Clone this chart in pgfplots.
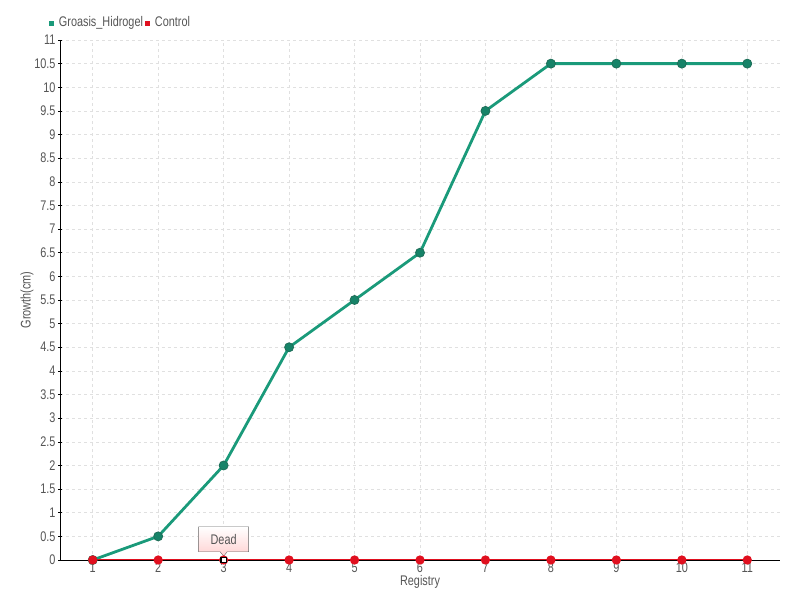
\documentclass[border=0pt]{standalone}
\usepackage{fontspec}
\setmainfont{Liberation Sans}[FakeStretch=0.78]
\usepackage{pgfplots}
\pgfplotsset{compat=1.18}
\usetikzlibrary{shapes.callouts}

\definecolor{hidro}{HTML}{1A9A7A}
\definecolor{hidroDark}{HTML}{1E6E58}
\definecolor{ctrl}{HTML}{E0101F}
\definecolor{txt}{HTML}{555555}

\begin{document}
\begin{tikzpicture}[x=1bp,y=1bp]
\useasboundingbox (0,0) rectangle (800,600);
\begin{axis}[
    at={(60bp,40bp)}, anchor=south west,
    scale only axis, width=720bp, height=520bp,
    xmin=0.5, xmax=11.5, ymin=0, ymax=11,
    xtick={1,...,11}, ytick={0,0.5,...,11},
    axis lines=left, axis line style={-, black, line width=0.8pt},
    tick style={black, line width=0.6pt}, major tick length=4bp,
    grid=major, grid style={dashed, black!12, line width=0.6pt},
    /pgf/number format/assume math mode=true,
    yticklabel style={/pgf/number format/fixed, /pgf/number format/precision=1, xshift=1bp},
    tick label style={font=\fontsize{14}{16}\selectfont, text=txt},
    xticklabel style={yshift=3bp},
    xlabel={Registry}, ylabel={Growth(cm)},
    label style={font=\fontsize{14}{16}\selectfont, text=txt},
    xlabel style={yshift=4bp},
    ylabel style={yshift=-6bp},
    legend columns=2,
    legend style={at={(-0.017,1.052)}, anchor=north west, draw=none, fill=none,
        font=\fontsize{14}{16}\selectfont, text=txt, inner sep=1bp,
        /tikz/every odd column/.append style={column sep=3bp}},
    legend image code/.code={\fill[#1, draw=none] (0bp,-4bp) rectangle (5bp,1bp);},
]
\addplot[color=hidro, line width=2.8pt, mark=*, mark size=4.5bp,
    mark options={fill=hidro!85!black, draw=hidroDark, line width=0.8pt}]
    coordinates {(1,0) (2,0.5) (3,2) (4,4.5) (5,5.5) (6,6.5) (7,9.5) (8,10.5) (9,10.5) (10,10.5) (11,10.5)};
\addlegendentry{Groasis\_Hidrogel}
\addplot[color=ctrl, line width=1.2pt, mark=*, mark size=4bp,
    mark options={fill=ctrl, draw=ctrl}]
    coordinates {(1,0) (2,0) (3,0) (4,0) (5,0) (6,0) (7,0) (8,0) (9,0) (10,0) (11,0)};
\addlegendentry{Control}
\addplot[only marks, mark=square*, mark size=2.6bp,
    mark options={fill=white, draw=black, line width=1.2pt}, forget plot]
    coordinates {(3,0)};
\node[rectangle callout, callout absolute pointer={(axis cs:3,0.08)},
    draw=black!60, top color=white, bottom color=red!18,
    minimum width=50bp, minimum height=25bp, inner sep=2bp,
    font=\fontsize{14}{16}\selectfont, text=txt, anchor=south]
    at (axis cs:3,0.17) {Dead};
\end{axis}
\end{tikzpicture}
\end{document}
